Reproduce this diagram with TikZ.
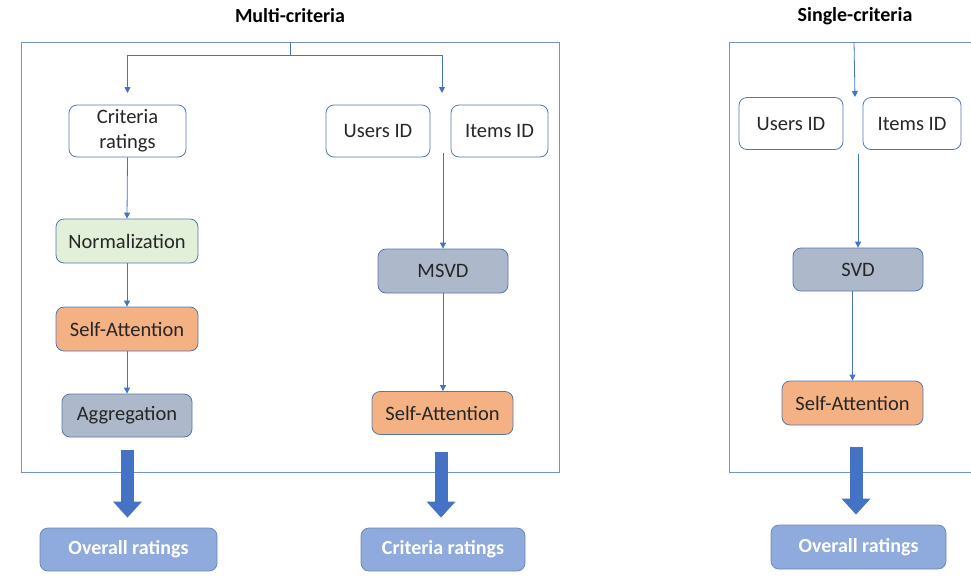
\documentclass[tikz,border=0pt]{standalone}
\usepackage{fontspec}
\setmainfont{Carlito}
\usetikzlibrary{arrows.meta}
\definecolor{frameblue}{HTML}{7193D0}
\definecolor{connblue}{HTML}{4472C4}
\definecolor{boxline}{HTML}{5676AE}
\definecolor{greenfill}{HTML}{E2F0D9}
\definecolor{orangefill}{HTML}{F4B183}
\definecolor{grayfill}{HTML}{ADB9CA}
\definecolor{outfill}{HTML}{8FAADC}
\definecolor{txt}{HTML}{262626}
\tikzset{
  x=1pt, y=-1pt,
  blk/.style={draw=boxline, line width=0.8pt, rounded corners=8pt, align=center,
    inner sep=0pt, text=txt, font=\fontsize{20.5}{24}\selectfont},
  inbox/.style={blk, fill=white},
  normbox/.style={blk, fill=greenfill},
  attbox/.style={blk, fill=orangefill},
  graybox/.style={blk, fill=grayfill},
  outbox/.style={blk, fill=outfill, draw=outfill!80!black, text=white,
    font=\fontsize{20}{23}\selectfont\bfseries},
  ttl/.style={font=\fontsize{20}{23}\selectfont\bfseries, text=black},
  conn/.style={draw=connblue, line width=0.8pt},
  arr/.style={conn, -{Triangle[width=6pt,length=6pt]}},
  bigarrow/.style={draw=connblue, line width=13pt,
    -{Triangle[width=28pt,length=16pt]}, shorten >=10pt},
}
\begin{document}
\begin{tikzpicture}
\useasboundingbox (0,0) rectangle (971,576);

% ---- Multi-criteria ----
\node[ttl] (mcTitle) at (290,16) {Multi-criteria};
\draw[frameblue, line width=0.9pt] (21,42) rectangle (559,472);

\node[inbox, minimum width=117pt, minimum height=52pt] (crit) at (127.5,131)
  {Criteria\\[1pt]ratings};
\node[inbox, minimum width=104pt, minimum height=52pt] (users) at (378,131) {Users ID};
\node[inbox, minimum width=97pt, minimum height=52pt] (items) at (499.5,131) {Items ID};
\node[normbox, minimum width=142pt, minimum height=44pt] (norm) at (127,241) {Normalization};
\node[attbox, minimum width=142pt, minimum height=44pt] (sa1) at (127,329) {Self-Attention};
\node[graybox, minimum width=130pt, minimum height=43pt] (agg) at (127,415.5) {Aggregation};
\node[graybox, minimum width=130pt, minimum height=44pt] (msvd) at (443,271) {MSVD};
\node[attbox, minimum width=141pt, minimum height=43pt] (sa2) at (442.5,413) {Self-Attention};
\node[outbox, minimum width=177pt, minimum height=43pt] (out1) at (128.5,549.5) {Overall ratings};
\node[outbox, minimum width=164pt, minimum height=43pt] (out2) at (443,549.5) {Criteria ratings};

% split from the frame top into the two branches
\coordinate (top1) at (290,42);
\coordinate (j1) at (290,55);
\coordinate (a1) at (127.5,93);
\coordinate (a2) at (442,93);
\draw[conn] (top1) -- (j1);
\draw[arr] (j1) -| (a1);
\draw[arr] (j1) -| (a2);

\draw[arr] (crit.south) -- (norm.north);
\draw[arr] (norm.south) -- (sa1.north);
\draw[arr] (sa1.south) -- (agg.north);
\coordinate (m0) at (443,153);
\draw[arr] (m0) -- (msvd.north);
\draw[arr] (msvd.south) -- (msvd.south |- sa2.north);

\coordinate (b1) at (127.5,450);
\coordinate (b2) at (441,452);
\draw[bigarrow] (b1) -- (b1 |- out1.north);
\draw[bigarrow] (b2) -- (b2 |- out2.north);

% ---- Single-criteria ----
\node[ttl] (scTitle) at (855,16) {Single-criteria};
\draw[frameblue, line width=0.9pt] (972,42) -- (729,42) -- (729,472) -- (972,472);

\node[inbox, minimum width=104pt, minimum height=52pt] (users2) at (791,123.5) {Users ID};
\node[inbox, minimum width=98pt, minimum height=52pt] (items2) at (912,123.5) {Items ID};
\node[graybox, minimum width=130pt, minimum height=43pt] (svd) at (858,269.5) {SVD};
\node[attbox, minimum width=141pt, minimum height=44pt] (sa3) at (852.5,403) {Self-Attention};
\node[outbox, minimum width=175pt, minimum height=44pt] (out3) at (858.5,547) {Overall ratings};

\coordinate (s0) at (854,42);
\coordinate (s1) at (855,97);
\draw[arr] (s0) -- (s1);
\coordinate (s2) at (858,154);
\draw[arr] (s2) -- (svd.north);
\draw[arr] (sa3.north |- svd.south) -- (sa3.north);

\coordinate (b3) at (856,447);
\draw[bigarrow] (b3) -- (b3 |- out3.north);
\end{tikzpicture}
\end{document}
